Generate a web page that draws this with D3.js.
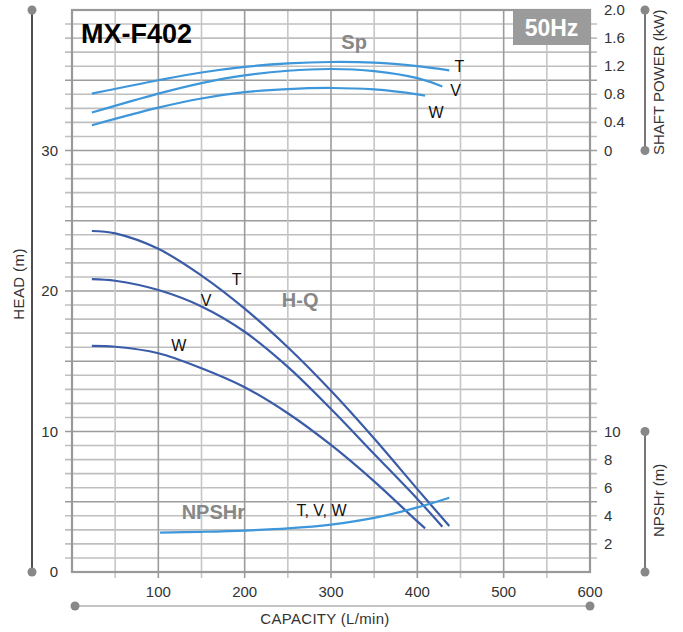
<!DOCTYPE html>
<html lang="en">
<head>
    <meta charset="UTF-8">
    <title>MX-F402 | 50Hz</title>
    <script src="https://d3js.org/d3.v7.min.js"></script>
    <style>
        body {
            margin: 0;
            font-family: "Liberation Sans", Arial, sans-serif;
            background: #fff;
        }
        svg {
            display: block;
        }
        text {
            fill: #333;
        }
    </style>
</head>
<body>

    <div id="container"></div>

    <script>
        // ---- data ----
        // H-Q curves (capacity L/min, head m)
        const hqT_q = [23, 50, 100, 150, 200, 250, 300, 350, 400, 437];
        const hqT_h = [24.27, 24.1, 23.0, 21.1, 18.75, 16.0, 12.9, 9.5, 5.9, 3.27];
        const hqV_q = [23, 50, 100, 150, 200, 250, 300, 350, 400, 429];
        const hqV_h = [20.85, 20.73, 20.07, 18.9, 17.1, 14.6, 11.6, 8.4, 5.2, 3.22];
        const hqW_q = [23, 50, 100, 150, 200, 250, 300, 350, 400, 409];
        const hqW_h = [16.09, 16.03, 15.57, 14.5, 13.15, 11.3, 9.04, 6.45, 3.6, 3.11];

        // shaft power curves (kW)
        const spT_q = [23, 100, 150, 200, 250, 300, 350, 400, 437];
        const spT_p = [0.81, 1.0, 1.11, 1.19, 1.24, 1.26, 1.25, 1.2, 1.14];
        const spV_q = [23, 100, 150, 200, 250, 300, 350, 400, 429];
        const spV_p = [0.54, 0.81, 0.96, 1.07, 1.135, 1.16, 1.13, 1.03, 0.91];
        const spW_q = [23, 100, 150, 200, 250, 300, 350, 400, 409];
        const spW_p = [0.36, 0.61, 0.74, 0.83, 0.875, 0.89, 0.87, 0.8, 0.78];

        // NPSHr (m), same for T, V, W
        const npsh_q = [102, 150, 200, 250, 300, 350, 400, 437];
        const npsh_v = [2.8, 2.86, 2.95, 3.1, 3.37, 3.85, 4.6, 5.29];

        // tick labels
        const capTicks = [100, 200, 300, 400, 500, 600];
        const headTicks = [0, 10, 20, 30];
        const powerTicks = [0, 0.4, 0.8, 1.2, 1.6, 2.0];
        const npshTicks = [2, 4, 6, 8, 10];

        const width = 683, height = 632;

        const svg = d3.select('#container').append('svg')
            .attr('width', width)
            .attr('height', height);

        // scales
        const x = d3.scaleLinear().domain([0, 600]).range([72, 590]);
        const yHead = d3.scaleLinear().domain([0, 40]).range([572, 10]);
        const yPow = d3.scaleLinear().domain([0, 2]).range([yHead(30), yHead(40)]);
        const yNpsh = d3.scaleLinear().domain([0, 10]).range([yHead(0), yHead(10)]);

        const zip = (a, b) => a.map((v, i) => [v, b[i]]);

        // grid (minor first, major on top)
        const grid = svg.append('g');
        const hLines = d3.range(1, 40).sort((a, b) => (a % 5 === 0) - (b % 5 === 0));
        grid.selectAll('.hgrid')
            .data(hLines)
            .enter()
            .append('line')
            .attr('x1', 65).attr('x2', 597)
            .attr('y1', d => yHead(d)).attr('y2', d => yHead(d))
            .attr('stroke', d => d % 5 === 0 ? '#9c9c9c' : '#bfbfbf')
            .attr('stroke-width', 1.6);

        const vLines = d3.range(50, 600, 50);
        grid.selectAll('.vgrid')
            .data(vLines)
            .enter()
            .append('line')
            .attr('x1', d => x(d)).attr('x2', d => x(d))
            .attr('y1', 10).attr('y2', 578)
            .attr('stroke', d => d % 100 === 0 ? '#9c9c9c' : '#c6c6c6')
            .attr('stroke-width', 1.6);

        // frame
        svg.append('rect')
            .attr('x', x(0)).attr('y', yHead(40))
            .attr('width', x(600) - x(0)).attr('height', yHead(0) - yHead(40))
            .attr('fill', 'none')
            .attr('stroke', '#999')
            .attr('stroke-width', 2.2);

        // curves
        const line = d3.line()
            .x(d => x(d[0]))
            .curve(d3.curveCatmullRom.alpha(0.5));

        const hqColor = '#3a5ca8';
        const spColor = '#3d97da';

        [[hqT_q, hqT_h], [hqV_q, hqV_h], [hqW_q, hqW_h]].forEach(s => {
            svg.append('path')
                .datum(zip(s[0], s[1]))
                .attr('d', line.y(d => yHead(d[1])))
                .attr('fill', 'none')
                .attr('stroke', hqColor)
                .attr('stroke-width', 2.2);
        });

        [[spT_q, spT_p], [spV_q, spV_p], [spW_q, spW_p]].forEach(s => {
            svg.append('path')
                .datum(zip(s[0], s[1]))
                .attr('d', line.y(d => yPow(d[1])))
                .attr('fill', 'none')
                .attr('stroke', spColor)
                .attr('stroke-width', 2.2);
        });

        svg.append('path')
            .datum(zip(npsh_q, npsh_v))
            .attr('d', line.y(d => yNpsh(d[1])))
            .attr('fill', 'none')
            .attr('stroke', spColor)
            .attr('stroke-width', 2.2);

        // tick labels
        svg.selectAll('.capLabel')
            .data(capTicks)
            .enter()
            .append('text')
            .attr('x', d => x(d))
            .attr('y', 597)
            .attr('text-anchor', 'middle')
            .style('font-size', '15px')
            .text(d => d);

        svg.selectAll('.headLabel')
            .data(headTicks)
            .enter()
            .append('text')
            .attr('x', 58)
            .attr('y', d => yHead(d) + 5)
            .attr('text-anchor', 'end')
            .style('font-size', '15px')
            .text(d => d);

        svg.selectAll('.powLabel')
            .data(powerTicks)
            .enter()
            .append('text')
            .attr('x', 604)
            .attr('y', d => yPow(d) + 5)
            .style('font-size', '15px')
            .text(d => d === 0 ? '0' : d.toFixed(1));

        svg.selectAll('.npshLabel')
            .data(npshTicks)
            .enter()
            .append('text')
            .attr('x', 604)
            .attr('y', d => yNpsh(d) + 5)
            .style('font-size', '15px')
            .text(d => d);

        // axis bars with dots
        function bar(x1, y1, x2, y2, color) {
            svg.append('line')
                .attr('x1', x1).attr('y1', y1).attr('x2', x2).attr('y2', y2)
                .attr('stroke', color).attr('stroke-width', 1.6);
            [[x1, y1], [x2, y2]].forEach(p => {
                svg.append('circle')
                    .attr('cx', p[0]).attr('cy', p[1]).attr('r', 4.5)
                    .attr('fill', '#888');
            });
        }
        bar(32, yHead(40), 32, yHead(0), '#222');
        bar(75, 606, 590, 606, '#b0b0b0');
        bar(645, yPow(2), 645, yPow(0), '#555');
        bar(645, yNpsh(10), 645, yNpsh(0), '#555');

        // axis titles
        svg.append('text')
            .attr('transform', 'translate(24,' + yHead(20.5) + ') rotate(-90)')
            .attr('text-anchor', 'middle')
            .style('font-size', '15px')
            .style('letter-spacing', '0.4px')
            .text('HEAD (m)');

        svg.append('text')
            .attr('x', x(293)).attr('y', 624)
            .attr('text-anchor', 'middle')
            .style('font-size', '15px')
            .style('letter-spacing', '0.3px')
            .text('CAPACITY (L/min)');

        svg.append('text')
            .attr('transform', 'translate(664,' + yPow(0.97) + ') rotate(-90)')
            .attr('text-anchor', 'middle')
            .style('font-size', '15px')
            .text('SHAFT POWER (kW)');

        svg.append('text')
            .attr('transform', 'translate(664,' + yNpsh(5.1) + ') rotate(-90)')
            .attr('text-anchor', 'middle')
            .style('font-size', '15px')
            .text('NPSHr (m)');

        // title and frequency badge
        svg.append('text')
            .attr('x', 81).attr('y', 43)
            .style('font-size', '27px')
            .style('font-weight', 'bold')
            .style('fill', '#000')
            .text('MX-F402');

        svg.append('rect')
            .attr('x', 513).attr('y', 10)
            .attr('width', 77).attr('height', 35)
            .attr('fill', '#9b9b9b');
        svg.append('text')
            .attr('x', 551.5).attr('y', 36)
            .attr('text-anchor', 'middle')
            .style('font-size', '23px')
            .style('font-weight', 'bold')
            .style('fill', '#fff')
            .text('50Hz');

        // curve names
        const grayLabels = [
            {t: 'Sp', q: 312, h: 37.2},
            {t: 'H-Q', q: 243, h: 18.85},
            {t: 'NPSHr', q: 127, h: 3.8}
        ];
        svg.selectAll('.gl')
            .data(grayLabels)
            .enter()
            .append('text')
            .attr('x', d => x(d.q))
            .attr('y', d => yHead(d.h))
            .style('font-size', '20px')
            .style('font-weight', 'bold')
            .style('fill', '#878787')
            .text(d => d.t);

        const curveLabels = [
            {t: 'T', q: 443, h: 35.6},
            {t: 'V', q: 438, h: 33.9},
            {t: 'W', q: 413, h: 32.3},
            {t: 'T', q: 185, h: 20.4},
            {t: 'V', q: 149, h: 18.95},
            {t: 'W', q: 115, h: 15.75},
            {t: 'T, V, W', q: 260, h: 4.0}
        ];
        svg.selectAll('.cl')
            .data(curveLabels)
            .enter()
            .append('text')
            .attr('x', d => x(d.q))
            .attr('y', d => yHead(d.h))
            .style('font-size', '16px')
            .style('fill', '#111')
            .text(d => d.t);
    </script>

</body>
</html>
